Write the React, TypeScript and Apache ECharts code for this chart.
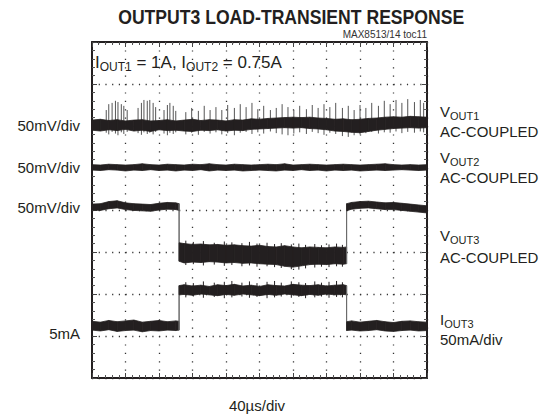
import React, { useEffect, useRef } from "react";
import * as echarts from "echarts";

// x in microseconds (40 µs/div, 10 div), y in screen divisions (0..8)
const sampleUs = [0,10,20,30,40,50,60,70,80,90,100,110,120,130,140,150,160,170,180,190,200,210,220,230,240,250,260,270,280,290,300,310,320,330,340,350,360,370,380,390,400];

const vout1Upper = [6.14,6.16,6.13,6.15,6.12,6.14,6.15,6.12,6.13,6.15,6.12,6.14,6.16,6.13,6.15,6.14,6.12,6.15,6.14,6.17,6.16,6.18,6.19,6.20,6.21,6.20,6.21,6.19,6.18,6.16,6.17,6.15,6.16,6.18,6.19,6.21,6.22,6.21,6.23,6.22,6.21];
const vout1Lower = [5.90,5.88,5.91,5.89,5.92,5.88,5.90,5.87,5.91,5.89,5.90,5.88,5.87,5.90,5.89,5.91,5.88,5.90,5.89,5.92,5.93,5.94,5.95,5.96,5.95,5.96,5.94,5.93,5.91,5.88,5.87,5.85,5.84,5.87,5.90,5.92,5.94,5.95,5.96,5.95,5.96];

const vout1SpikeUs = [17,20,24,28,31,35,38,42,55,59,62,66,69,73,76,86,90,93,97,100,112,119,127,134,141,148,155,162,170,177,184,191,198,205,213,220,227,234,241,248,256,263,270,277,284,291,299,306,313,320,327,334,342,349,356,363,370,377,385,392,396];
const vout1SpikeTop = [6.38,6.52,6.55,6.60,6.57,6.52,6.48,6.38,6.43,6.55,6.62,6.60,6.62,6.55,6.45,6.38,6.50,6.55,6.48,6.36,6.33,6.43,6.36,6.48,6.38,6.45,6.38,6.50,6.43,6.52,6.45,6.55,6.40,6.48,6.38,6.43,6.52,6.45,6.38,6.48,6.40,6.50,6.43,6.52,6.45,6.55,6.43,6.48,6.38,6.50,6.43,6.55,6.48,6.60,6.52,6.62,6.55,6.64,6.57,6.62,6.55];
const vout1SpikeLow = [5.84,5.80,5.86,5.82,5.78,5.85,5.81,5.86,5.83,5.79,5.85,5.81,5.84,5.80,5.86,5.82,5.78,5.84,5.81,5.85,5.80,5.84,5.79,5.86,5.82,5.85,5.80,5.83,5.78,5.84,5.86,5.81,5.85,5.82,5.87,5.83,5.80,5.78,5.82,5.85,5.81,5.86,5.83,5.79,5.84,5.81,5.76,5.74,5.78,5.80,5.83,5.86,5.82,5.85,5.84,5.87,5.83,5.86,5.84,5.87,5.85];

const vout2Upper = [5.08,5.07,5.09,5.08,5.07,5.08,5.10,5.08,5.07,5.09,5.08,5.07,5.09,5.08,5.10,5.08,5.07,5.09,5.08,5.07,5.08,5.09,5.08,5.10,5.07,5.08,5.09,5.08,5.07,5.08,5.09,5.08,5.07,5.08,5.09,5.10,5.08,5.07,5.08,5.07,5.08];
const vout2Lower = [4.95,4.94,4.96,4.95,4.93,4.95,4.94,4.96,4.94,4.95,4.93,4.95,4.94,4.96,4.93,4.95,4.94,4.95,4.93,4.94,4.95,4.94,4.93,4.95,4.94,4.96,4.94,4.95,4.93,4.95,4.94,4.95,4.93,4.94,4.95,4.94,4.95,4.96,4.95,4.94,4.95];

// load step: on at ~104 µs, off at ~304 µs
const stepUs = [0,10,20,30,40,50,60,70,80,90,100,104,104,110,120,130,140,150,160,170,180,190,200,210,220,230,240,250,260,270,280,290,300,304,304,310,320,330,340,350,360,370,380,390,400];

const vout3Upper = [4.14,4.15,4.20,4.22,4.17,4.15,4.14,4.13,4.16,4.18,4.17,4.15, 3.22,3.20,3.18,3.19,3.17,3.18,3.16,3.17,3.15,3.14,3.16,3.13,3.12,3.15,3.12,3.10,3.12,3.11,3.10,3.12,3.11,3.12, 4.15,4.18,4.20,4.21,4.19,4.17,4.18,4.16,4.14,4.12,4.10];
const vout3Lower = [4.00,3.99,4.03,4.05,4.01,3.99,3.98,3.97,4.00,4.02,4.01,3.99, 2.78,2.74,2.76,2.75,2.77,2.76,2.74,2.75,2.73,2.74,2.72,2.71,2.70,2.66,2.64,2.67,2.70,2.71,2.70,2.72,2.71,2.72, 3.98,4.02,4.04,4.05,4.03,4.01,4.01,3.99,3.97,3.95,3.93];

const iout3Upper = [1.35,1.33,1.37,1.34,1.36,1.38,1.33,1.35,1.37,1.34,1.36,1.35, 2.20,2.22,2.19,2.21,2.18,2.22,2.20,2.23,2.19,2.21,2.18,2.22,2.20,2.19,2.23,2.21,2.20,2.22,2.19,2.21,2.22,2.20, 1.34,1.36,1.33,1.35,1.37,1.34,1.32,1.35,1.36,1.34,1.33];
const iout3Lower = [1.14,1.12,1.15,1.11,1.13,1.14,1.10,1.13,1.12,1.14,1.13,1.14, 1.98,1.99,1.97,2.00,1.98,1.96,1.99,1.97,2.00,1.98,1.96,1.99,1.97,2.00,1.98,1.96,1.99,1.97,2.00,1.98,1.99,1.98, 1.13,1.14,1.12,1.13,1.15,1.12,1.11,1.13,1.14,1.12,1.13];

// short noise excursions on the noisier bands
const fuzzUs = [112,121,133,146,158,167,179,188,197,209,218,226,238,247,255,266,274,283,292,299];
const vout3FuzzTop = [3.27,3.24,3.26,3.22,3.25,3.23,3.21,3.24,3.20,3.22,3.19,3.21,3.18,3.20,3.17,3.19,3.16,3.18,3.20,3.17];
const vout3FuzzLow = [2.69,2.71,2.68,2.70,2.67,2.69,2.66,2.68,2.65,2.66,2.64,2.62,2.59,2.58,2.61,2.63,2.65,2.64,2.66,2.65];
const iout3FuzzTop = [2.28,2.26,2.30,2.27,2.29,2.31,2.27,2.30,2.26,2.29,2.31,2.27,2.30,2.28,2.26,2.30,2.27,2.29,2.31,2.28];
const iout3FuzzLow = [1.92,1.94,1.91,1.93,1.90,1.92,1.94,1.91,1.93,1.90,1.92,1.94,1.91,1.93,1.90,1.92,1.94,1.91,1.93,1.92];

const leftLabels = ["50mV/div", "50mV/div", "50mV/div", "5mA"];

const INK = "#231f20";
const EDGE = "#6a6a6a";
const FONT = "'Liberation Sans', Arial, sans-serif";

function segments(xs: number[], up: number[], lo: number[]) {
  const out: number[][] = [];
  for (let i = 0; i < xs.length - 1; i++) {
    out.push([xs[i], lo[i], up[i], xs[i + 1], lo[i + 1], up[i + 1]]);
  }
  return out;
}

function bandSeries(name: string, xs: number[], up: number[], lo: number[]) {
  return {
    type: "custom",
    name,
    silent: true,
    dimensions: ["x0", "lo0", "hi0", "x1", "lo1", "hi1"],
    encode: { x: [0, 3], y: [1, 2, 4, 5] },
    data: segments(xs, up, lo),
    renderItem: (params: any, api: any) => {
      const x0 = api.value(0);
      const x1 = api.value(3);
      const a = api.coord([x0, api.value(2)]);
      const b = api.coord([x1, api.value(5)]);
      const c = api.coord([x1, api.value(4)]);
      const d = api.coord([x0, api.value(1)]);
      const step = x0 === x1;
      return {
        type: "polygon",
        shape: { points: [a, b, c, d] },
        style: {
          fill: step ? EDGE : INK,
          stroke: step ? EDGE : INK,
          lineWidth: step ? 1 : 0.8,
        },
      };
    },
  };
}

function spikeSeries(xs: number[], lo: number[], hi: number[], color: string) {
  return {
    type: "custom",
    silent: true,
    dimensions: ["x", "lo", "hi"],
    encode: { x: 0, y: [1, 2] },
    data: xs.map((x, i) => [x, lo[i], hi[i]]),
    renderItem: (params: any, api: any) => {
      const p = api.coord([api.value(0), api.value(1)]);
      const q = api.coord([api.value(0), api.value(2)]);
      return {
        type: "line",
        shape: { x1: p[0], y1: p[1], x2: q[0], y2: q[1] },
        style: { stroke: color, lineWidth: 1 },
      };
    },
  };
}

const GRID = { left: 92, top: 42, width: 335, height: 336 };

function axisCommon(extra: any) {
  return {
    axisLine: { show: true, onZero: false, lineStyle: { color: INK, width: 2 } },
    axisTick: { show: true, inside: true, length: 5, lineStyle: { color: "#444", width: 1 } },
    minorTick: { show: true, splitNumber: 5, length: 3, lineStyle: { color: "#555", width: 1 } },
    axisLabel: { show: false },
    ...extra,
  };
}

export default function App() {
  const ref = useRef<HTMLDivElement>(null);
  useEffect(() => {
    if (!ref.current) return;
    const chart = echarts.init(ref.current, null, { renderer: "svg" });
    const gr = GRID.left + GRID.width;
    const option: any = {
      animation: false,
      backgroundColor: "#ffffff",
      grid: { ...GRID },
      xAxis: [
        axisCommon({
          type: "value", min: 0, max: 400, interval: 40, position: "bottom",
          splitLine: { show: true, lineStyle: { color: "#333", width: 1.3, type: [1.2, 7.2] } },
        }),
        axisCommon({ type: "value", min: 0, max: 400, interval: 40, position: "top", splitLine: { show: false } }),
      ],
      yAxis: [
        axisCommon({
          type: "value", min: 0, max: 8, interval: 1, position: "left",
          splitLine: { show: true, lineStyle: { color: "#333", width: 1.3, type: [1.2, 5.5] } },
        }),
        axisCommon({ type: "value", min: 0, max: 8, interval: 1, position: "right", splitLine: { show: false } }),
      ],
      series: [
        spikeSeries(vout1SpikeUs, vout1SpikeLow, vout1SpikeTop, "#555"),
        spikeSeries(fuzzUs, vout3FuzzLow, vout3FuzzTop, INK),
        spikeSeries(fuzzUs, iout3FuzzLow, iout3FuzzTop, INK),
        bandSeries("VOUT1", sampleUs, vout1Upper, vout1Lower),
        bandSeries("VOUT2", sampleUs, vout2Upper, vout2Lower),
        bandSeries("VOUT3", stepUs, vout3Upper, vout3Lower),
        bandSeries("IOUT3", stepUs, iout3Upper, iout3Lower),
      ],
      graphic: [
        {
          type: "text", x: 260, y: 17, scaleX: 0.88, originX: 260, originY: 17,
          style: { text: "OUTPUT3 LOAD-TRANSIENT RESPONSE", font: `bold 20px ${FONT}`, fill: INK, align: "center", verticalAlign: "middle" },
        },
        {
          type: "text", x: gr, y: 34,
          style: { text: "MAX8513/14 toc11", font: `10px ${FONT}`, fill: "#333", align: "right", verticalAlign: "middle" },
        },
        {
          type: "text", x: 95, y: 62,
          style: {
            text: "{m|I}{s|OUT1}{m| = 1A, I}{s|OUT2}{m| = 0.75A}",
            verticalAlign: "middle",
            rich: {
              m: { fontSize: 17, fontFamily: FONT, fill: INK, verticalAlign: "bottom", lineHeight: 18 },
              s: { fontSize: 12, fontFamily: FONT, fill: INK, verticalAlign: "bottom", lineHeight: 18, padding: [0, 0, -2, 0] },
            },
          },
        },
        ...[125, 167, 207, 333].map((y, i) => ({
          type: "text", x: 80, y,
          style: { text: leftLabels[i], font: `15px ${FONT}`, fill: INK, align: "right", verticalAlign: "middle" },
        })),
        ...[
          { y: 111, sub: "OUT1", big: "V" },
          { y: 157, sub: "OUT2", big: "V" },
          { y: 235, sub: "OUT3", big: "V" },
          { y: 319, sub: "OUT3", big: "I" },
        ].map((d) => ({
          type: "text", x: 440, y: d.y,
          style: {
            text: `{m|${d.big}}{s|${d.sub}}`,
            verticalAlign: "middle",
            rich: {
              m: { fontSize: 15, fontFamily: FONT, fill: INK, verticalAlign: "bottom", lineHeight: 16 },
              s: { fontSize: 11, fontFamily: FONT, fill: INK, verticalAlign: "bottom", lineHeight: 16, padding: [0, 0, -2, 0] },
            },
          },
        })),
        ...[
          { y: 131, t: "AC-COUPLED" },
          { y: 177, t: "AC-COUPLED" },
          { y: 257, t: "AC-COUPLED" },
          { y: 339, t: "50mA/div" },
        ].map((d) => ({
          type: "text", x: 440, y: d.y,
          style: { text: d.t, font: `15px ${FONT}`, fill: INK, align: "left", verticalAlign: "middle" },
        })),
        {
          type: "text", x: 257, y: 405,
          style: { text: "40µs/div", font: `15px ${FONT}`, fill: INK, align: "center", verticalAlign: "middle" },
        },
      ],
    };
    chart.setOption(option);
    return () => chart.dispose();
  }, []);
  return (
    <div
      ref={ref}
      style={{ position: "fixed", left: 0, top: 0, width: 546, height: 417, background: "#fff" }}
    />
  );
}
